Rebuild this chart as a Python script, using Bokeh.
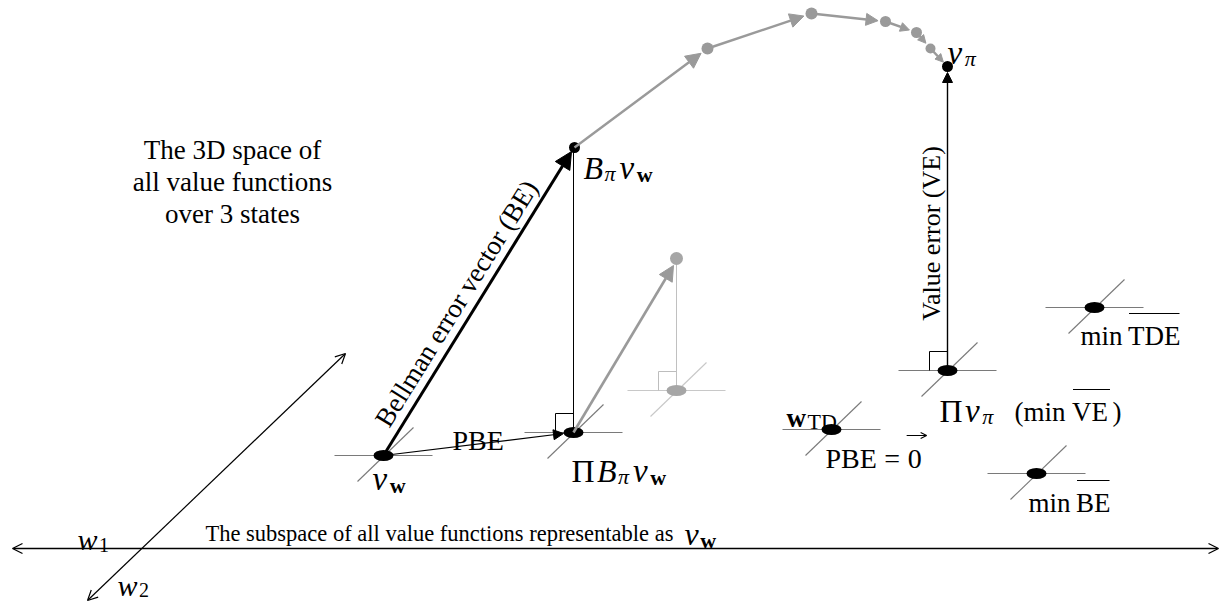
import numpy as np
from bokeh.plotting import figure
from bokeh.models import Range1d, Arrow, NormalHead, OpenHead, ColumnDataSource
from bokeh.core.properties import value
from bokeh.embed import file_html
from bokeh.resources import INLINE

W, H = 1220, 602

# ---------------- data (diagram coordinates) ----------------
# points that lie in the subspace (flattened ellipses with a crosshair)
plane_names = ["v_w", "PiB_v_w", "PiB_next", "Pi_v_pi", "w_TD", "min_BE", "min_TDE"]
plane_x = [383, 573, 676, 947, 831, 1036, 1094]
plane_y = [455, 432, 390, 370, 429, 473, 307]
plane_fill = ["black", "black", "#a6a6a6", "black", "black", "black", "black"]
plane_cross = ["#7a7a7a", "#7a7a7a", "#c8c8c8", "#7a7a7a", "#7a7a7a", "#7a7a7a", "#7a7a7a"]

# points off the subspace
bv_x, bv_y = 574, 147          # B_pi v_w
vpi_x, vpi_y = 947, 66         # v_pi
gtop_x, gtop_y = 676, 258      # B_pi applied to Pi B_pi v_w (grey)

# repeated Bellman operator path from B_pi v_w to v_pi
path_x = [574, 707, 811, 885, 916, 930, 947]
path_y = [147, 48, 13, 21, 32, 48, 66]
path_dot = [0, 12, 12, 11, 11, 10, 0]
path_head = [15, 14, 12, 9, 8, 8]

# axes of the subspace
h_axis_y = 548
h_axis_x = [12, 1218]
d_axis_start = (345, 353)
d_axis_end = (87, 600)

GREY = "#9a9a9a"
SERIF = value("Liberation Serif")

# approximate advance widths (em) of Liberation Serif glyphs used in the labels
ADV = {("Π", "normal"): .72, ("B", "italic"): .611, ("v", "italic"): .444,
       ("π", "italic"): .52, ("w", "bold"): .722, ("w", "italic"): .667,
       ("TD", "normal"): 1.333, ("(min", "normal"): 1.889, ("min", "normal"): 1.556,
       ("VE", "normal"): 1.444, ("BE", "normal"): 1.278, ("TDE", "normal"): 1.944,
       ("PBE", "normal"): 1.834, ("=", "normal"): .564, ("0", "normal"): .5,
       (")", "normal"): .333, ("1", "normal"): .5, ("2", "normal"): .5}

p = figure(width=W, height=H, x_range=Range1d(0, W), y_range=Range1d(H, 0),
           output_backend="svg", toolbar_location=None, min_border=0)
p.axis.visible = False
p.grid.visible = False
p.outline_line_color = None
p.background_fill_color = "white"
p.border_fill_color = "white"


def put(x, y, txt, size, style="normal", color="black", align="left",
        baseline="alphabetic", angle=0.0):
    p.text(x=[x], y=[y], text=[txt], text_font=SERIF, text_font_size=f"{size}px",
           text_font_style=style, text_color=color, text_align=align,
           text_baseline=baseline, angle=angle)


def seq(x, y, pieces, gap=1.5):
    """pieces: (text, size, style, dy, extra_gap_after); returns list of (x_start, x_end)."""
    spans = []
    for txt, size, style, dy, extra in pieces:
        put(x, y + dy, txt, size, style)
        w = ADV.get((txt, style), .5) * size
        spans.append((x, x + w))
        x += w + gap + extra
    return spans


def overline(span, y):
    p.segment(x0=[span[0] + 1], y0=[y], x1=[span[1] - 1], y1=[y], line_color="black", line_width=1.2)


def arrow(x0, y0, x1, y1, color="black", width=1.2, size=12, start=None, head="normal"):
    if head == "normal":
        end = NormalHead(size=size, fill_color=color, line_color=color, line_width=1)
    else:
        end = OpenHead(size=size, line_color=color, line_width=width)
    p.add_layout(Arrow(start=start, end=end, x_start=x0, y_start=y0, x_end=x1, y_end=y1,
                       line_color=color, line_width=width))


# ---------------- axes of the subspace ----------------
arrow(h_axis_x[0], h_axis_y, h_axis_x[1], h_axis_y, width=1.3, size=10, head="open",
      start=OpenHead(size=10, line_color="black", line_width=1.3))
arrow(d_axis_start[0], d_axis_start[1], d_axis_end[0], d_axis_end[1], width=1.2, size=10,
      head="open", start=OpenHead(size=10, line_color="black", line_width=1.2))

# ---------------- crosshairs at subspace points ----------------
px = np.array(plane_x, float)
py = np.array(plane_y, float)
cross = ColumnDataSource(dict(
    hx0=px - 49, hx1=px + 49, hy=py,
    dx0=px - 26, dy0=py + 26, dx1=px + 30, dy1=py - 28,
    color=plane_cross))
p.segment(x0="hx0", y0="hy", x1="hx1", y1="hy", line_color="color", line_width=1.2, source=cross)
p.segment(x0="dx0", y0="dy0", x1="dx1", y1="dy1", line_color="color", line_width=1.1, source=cross)

# right-angle marks
for i, c in [(1, "black"), (2, "#bdbdbd"), (3, "black")]:
    x, y = plane_x[i], plane_y[i]
    p.line(x=[x - 18, x - 18, x], y=[y, y - 19, y - 19], line_color=c, line_width=1)

# ---------------- projections / vectors ----------------
p.line(x=[bv_x - 1, plane_x[1]], y=[bv_y, plane_y[1]], line_color="black", line_width=1)
p.line(x=[gtop_x, plane_x[2]], y=[gtop_y, plane_y[2]], line_color="#c0c0c0", line_width=1)

# grey vector from Pi B v_w to its Bellman image
arrow(plane_x[1], plane_y[1], gtop_x - 3, gtop_y + 7, color=GREY, width=2.6, size=15)

# Bellman error vector
arrow(plane_x[0], plane_y[0], bv_x - 3, bv_y + 4, color="black", width=3, size=17)
# projected Bellman error
arrow(plane_x[0], plane_y[0], plane_x[1] - 10, plane_y[1] + 1, color="black", width=1.2, size=10)
# value error
arrow(plane_x[3], plane_y[3], vpi_x, vpi_y + 6, color="black", width=1.4, size=10)

# iteration path
for i in range(len(path_x) - 1):
    x0, y0, x1, y1 = path_x[i], path_y[i], path_x[i + 1], path_y[i + 1]
    d = np.hypot(x1 - x0, y1 - y0)
    gap = (path_dot[i + 1] / 2 + 2) if path_dot[i + 1] else 6
    ex, ey = x1 - (x1 - x0) / d * gap, y1 - (y1 - y0) / d * gap
    arrow(x0, y0, ex, ey, color=GREY, width=2.4, size=path_head[i])

p.scatter(x=path_x[1:-1], y=path_y[1:-1], size=path_dot[1:-1], marker="circle",
          fill_color=GREY, line_color=None)
p.scatter(x=[gtop_x], y=[gtop_y], size=13, marker="circle", fill_color="#a6a6a6", line_color=None)

# ---------------- points ----------------
pts = ColumnDataSource(dict(x=plane_x, y=plane_y, c=plane_fill))
p.ellipse(x="x", y="y", width=20, height=11, width_units="screen", height_units="screen",
          fill_color="c", line_color=None, source=pts)
p.scatter(x=[bv_x, vpi_x], y=[bv_y, vpi_y], size=11, marker="circle",
          fill_color="black", line_color=None)

# ---------------- texts ----------------
space_lines = ["The 3D space of", "all value functions", "over 3 states"]
for t, yb in zip(space_lines, [149, 181, 213]):
    put(232, yb, t, 27, align="center")

put(205, 533, "The subspace of all value functions representable as", 22.5)
seq(684, 533, [("v", 32, "italic", 0, 0), ("w", 22, "bold", 7, 0)])

seq(77, 539, [("w", 30, "italic", 0, 0), ("1", 20, "normal", 5, 0)])
seq(117, 585, [("w", 30, "italic", 0, 0), ("2", 20, "normal", 4, 0)])

ang = np.arctan2(plane_y[0] - bv_y, bv_x - plane_x[0])
put(456, 303, "Bellman error vector (BE)", 27, align="center", baseline="middle", angle=ang)
put(931, 233, "Value error (VE)", 26, align="center", baseline="middle", angle=np.pi / 2)
put(452, 440, "PBE", 28)

# v_w
seq(372, 478, [("v", 33, "italic", 0, 1), ("w", 22, "bold", 7, 0)])
# Pi B_pi v_w
seq(571, 470, [("Π", 32, "normal", 0, 1), ("B", 32, "italic", 0, 0),
               ("π", 22, "italic", 6, 2), ("v", 33, "italic", 0, 1), ("w", 22, "bold", 7, 0)])
# B_pi v_w
seq(583, 167, [("B", 32, "italic", 0, 0), ("π", 22, "italic", 6, 2),
               ("v", 33, "italic", 0, 1), ("w", 22, "bold", 7, 0)])
# v_pi
seq(947, 52, [("v", 33, "italic", 0, 1), ("π", 22, "italic", 6, 0)])
# Pi v_pi (min VE)
seq(939, 410, [("Π", 32, "normal", 0, 1), ("v", 33, "italic", 0, 1), ("π", 22, "italic", 6, 0)])
s = seq(1014, 411, [("(min", 27, "normal", 0, 5), ("VE", 27, "normal", 0, 0), (")", 27, "normal", 0, 0)])
overline(s[1], 389)
# w_TD and PBE = 0
seq(786, 417, [("w", 27, "bold", 0, 0), ("TD", 22, "normal", 4, 0)])
s = seq(825, 458, [("PBE", 28, "normal", 0, 6), ("=", 28, "normal", 0, 6), ("0", 28, "normal", 0, 0)])
arrow(s[2][0] - 1, 435, s[2][1] + 5, 435, width=1.1, size=6, head="open")
# min BE
s = seq(1028, 502, [("min", 27, "normal", 0, 4), ("BE", 27, "normal", 0, 0)])
overline(s[1], 480)
# min TDE
s = seq(1080, 335, [("min", 27, "normal", 0, 4), ("TDE", 27, "normal", 0, 0)])
overline(s[1], 313)

open("out.html", "w").write(file_html(p, INLINE))
